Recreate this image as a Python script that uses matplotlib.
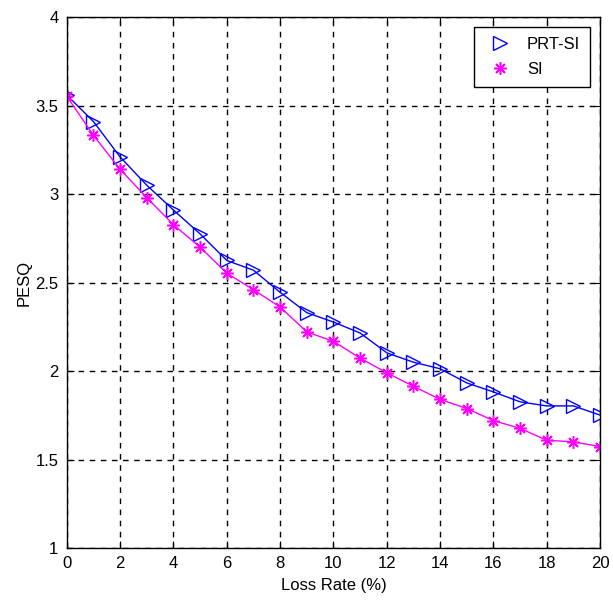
import matplotlib
matplotlib.use('Agg')
import matplotlib.pyplot as plt
from matplotlib.lines import Line2D
from matplotlib import font_manager

# pick a narrow font if there is one
names = set(f.name for f in font_manager.fontManager.ttflist)
if 'Liberation Sans Narrow' in names:
    fam = ['Liberation Sans Narrow', 'DejaVu Sans']
else:
    fam = ['Liberation Sans', 'DejaVu Sans']
plt.rcParams['font.family'] = fam

loss_rate = list(range(0, 21))
prt_si = [3.56, 3.41, 3.21, 3.05, 2.91, 2.775, 2.625, 2.57, 2.445, 2.33, 2.277,
          2.215, 2.103, 2.05, 2.013, 1.933, 1.882, 1.826, 1.803, 1.803, 1.751]
si = [3.553, 3.332, 3.14, 2.98, 2.827, 2.70, 2.553, 2.46, 2.362, 2.221, 2.168,
      2.073, 1.99, 1.914, 1.84, 1.788, 1.72, 1.676, 1.609, 1.60, 1.573]

xticks = list(range(0, 21, 2))
yticks = [1, 1.5, 2, 2.5, 3, 3.5, 4]
ytick_labels = ['1', '1.5', '2', '2.5', '3', '3.5', '4']

star = (8, 2, 0)  # matlab style asterisk

fig = plt.figure(figsize=(6.13, 6.08), dpi=100)
ax = fig.add_axes([0.109, 0.0987, 0.870, 0.873])

ax.plot(loss_rate, prt_si, '-', color='blue', linewidth=1, marker='>',
        markersize=10, markerfacecolor='none', markeredgecolor='blue',
        markeredgewidth=1)
ax.plot(loss_rate, si, '-', color='magenta', linewidth=1, marker=star,
        markersize=9, markeredgecolor='magenta', markeredgewidth=1.1)

ax.set_xlim(0, 20)
ax.set_ylim(1, 4)
ax.set_xticks(xticks)
ax.set_yticks(yticks)
ax.set_yticklabels(ytick_labels)
ax.tick_params(direction='in', length=5, labelsize=12, colors='black')
ax.tick_params(axis='x', pad=6)
ax.tick_params(axis='y', pad=6)
ax.tick_params(top=True, right=True)
ax.grid(True, color='black', linestyle=(0, (4, 4)), linewidth=1)
for s in ax.spines.values():
    s.set_linewidth(1)

ax.set_xlabel('Loss Rate (%)', fontsize=12, labelpad=5)
ax.set_ylabel('PESQ', fontsize=12, labelpad=3)

# legend shows markers only
h1 = Line2D([], [], linestyle='none', marker='>', markersize=10,
            markerfacecolor='none', markeredgecolor='blue', markeredgewidth=1)
h2 = Line2D([], [], linestyle='none', marker=star, markersize=9,
            markeredgecolor='magenta', markeredgewidth=1.1)
leg = ax.legend([h1, h2], ['PRT-SI', 'SI'], loc='upper right', fontsize=12,
                fancybox=False, framealpha=1, edgecolor='black',
                borderaxespad=0.6, handlelength=2.0, borderpad=0.6,
                labelspacing=0.6, handletextpad=0.6)
leg.get_frame().set_linewidth(1)

plt.savefig('out.png', dpi=100)
